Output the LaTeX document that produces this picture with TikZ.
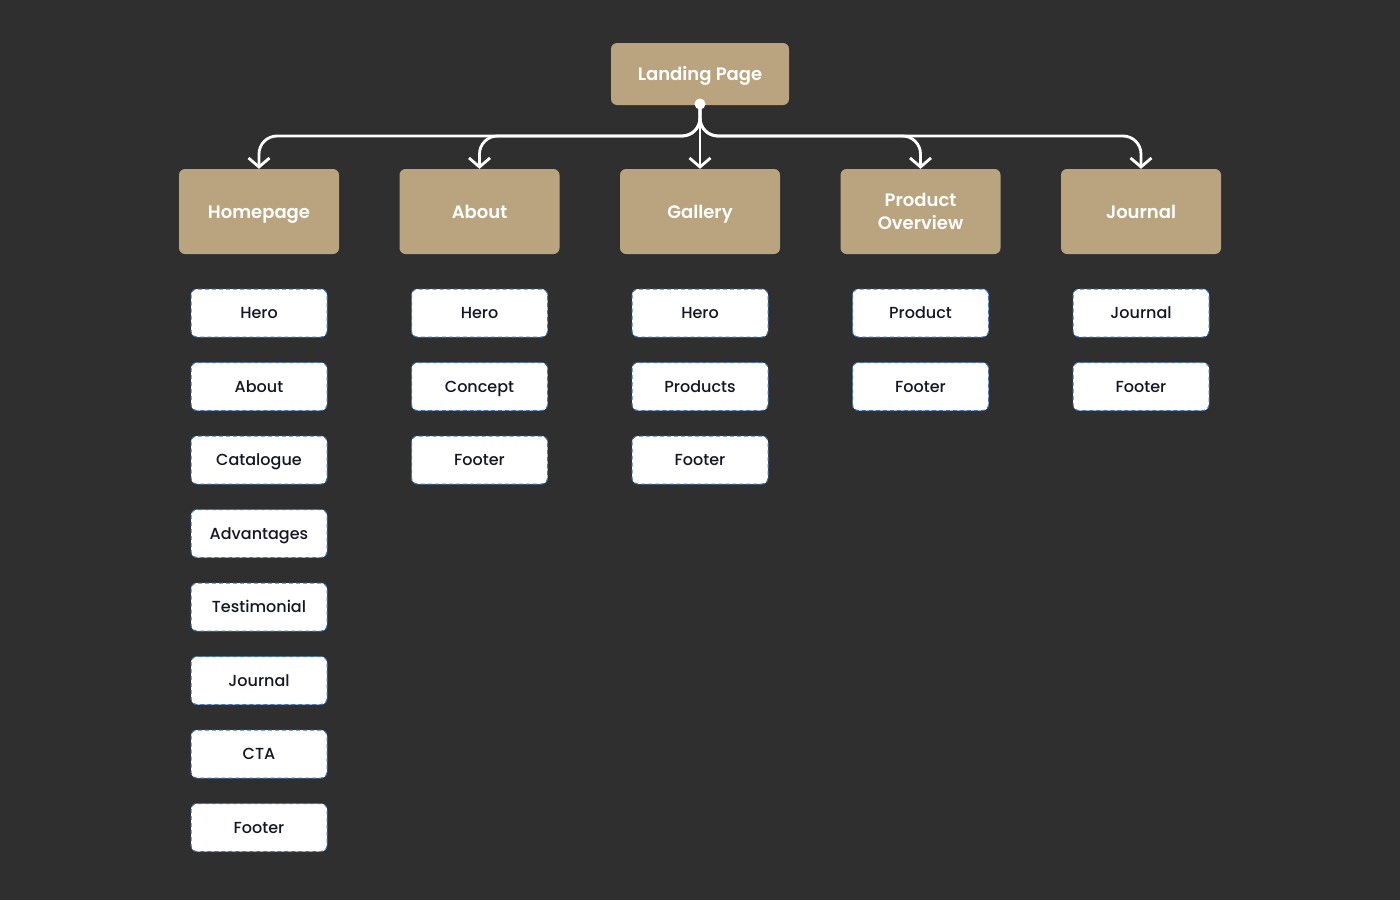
\documentclass[tikz,border=0pt]{standalone}
\usepackage{fontspec}
\setmainfont{Poppins}[UprightFont = * Medium, BoldFont = * SemiBold]
\usepackage{xcolor}
\usepackage{tikz}
\usetikzlibrary{positioning, arrows.meta}
\definecolor{bg}{HTML}{2F2F2F}
\definecolor{tan}{HTML}{B9A47F}
\definecolor{ink}{HTML}{141625}
\definecolor{dashblue}{HTML}{3B74B8}

\begin{document}
\begin{tikzpicture}[x=1pt, y=1pt, on grid, node distance = 73.5pt and 220.5pt, page/.style ={rounded corners=6pt, fill=tan, text=white, minimum width=160pt, minimum height=85pt, align=center, font=\fontsize{18}{23}\selectfont\bfseries}, title/.style={page, text height=13pt, text depth=0pt}, sect/.style={rounded corners=6pt, fill=white, draw=dashblue, dash pattern=on 4pt off 3pt, line width=1pt, text=ink, minimum width=136pt, minimum height=48pt, text height=11.5pt, text depth=0pt, font=\fontsize{16}{20}\selectfont}, link/.style={draw=white, line width=2.8pt, rounded corners=18pt, -{Straight Barb[length=9pt, width=21pt]}}]
\fill[bg] (0,0) rectangle (1400,-900);
\useasboundingbox (0,0) rectangle (1400,-900);
\node[title, minimum width=178pt, minimum height=62pt] (lp) at (700,-74) {Landing Page};
\node[title] (home) at (259,-211.5) {Homepage};
\node[title] (about) [right = of home] {About};
\node[title] (gallery) [right = of about] {Gallery};
\node[page] (prod) [right = of gallery] {Product\\Overview};
\node[title] (journal) [right = of prod] {Journal};
\node[circle, fill=white, inner sep=0pt, minimum size=11pt] (dot) at (700,-104) {};
\coordinate (bus) at (700,-136);
% homepage sections
\node[sect] (h1) [below = 101.5pt of home] {Hero};
\node[sect] (h2) [below = of h1] {About};
\node[sect] (h3) [below = of h2] {Catalogue};
\node[sect] (h4) [below = of h3] {Advantages};
\node[sect] (h5) [below = of h4] {Testimonial};
\node[sect] (h6) [below = of h5] {Journal};
\node[sect] (h7) [below = of h6] {CTA};
\node[sect] (h8) [below = of h7] {Footer};
% about sections
\node[sect] (a1) [below = 101.5pt of about] {Hero};
\node[sect] (a2) [below = of a1] {Concept};
\node[sect] (a3) [below = of a2] {Footer};
% gallery sections
\node[sect] (g1) [below = 101.5pt of gallery] {Hero};
\node[sect] (g2) [below = of g1] {Products};
\node[sect] (g3) [below = of g2] {Footer};
% product overview sections
\node[sect] (p1) [below = 101.5pt of prod] {Product};
\node[sect] (p2) [below = of p1] {Footer};
% journal sections
\node[sect] (j1) [below = 101.5pt of journal] {Journal};
\node[sect] (j2) [below = of j1] {Footer};
\draw[link] (dot.center) -- (bus) -| (home.north);
\draw[link] (dot.center) -- (bus) -| (about.north);
\draw[link] (dot.center) -- (gallery.north);
\draw[link] (dot.center) -- (bus) -| (prod.north);
\draw[link] (dot.center) -- (bus) -| (journal.north);
\end{tikzpicture}
\end{document}
